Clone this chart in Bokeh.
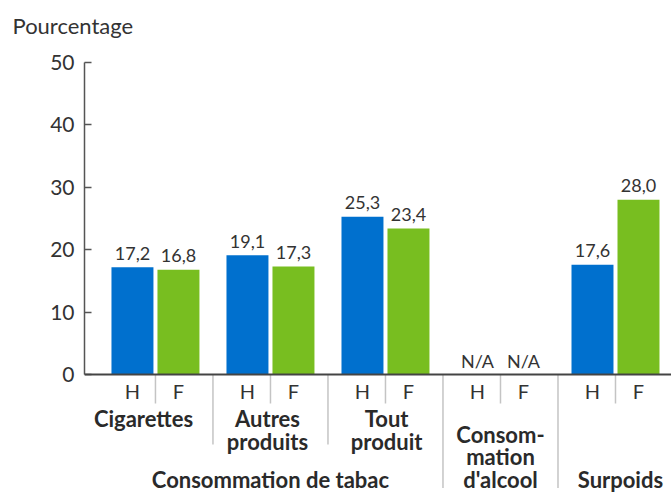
from bokeh.plotting import figure
from bokeh.models import Range1d, Span, FixedTicker
from bokeh.core.properties import value
from bokeh.embed import file_html
from bokeh.resources import INLINE

# ---- data ----
groups = ["Cigarettes", "Autres produits", "Tout produit", "Consommation d'alcool", "Surpoids"]
group_lines = [["Cigarettes"], ["Autres", "produits"], ["Tout", "produit"],
               ["Consom-", "mation", "d'alcool"], ["Surpoids"]]
sexes = ["H", "F"]
hommes = [17.2, 19.1, 25.3, None, 17.6]
femmes = [16.8, 17.3, 23.4, None, 28.0]
super_label = "Consommation de tabac"
super_groups = [0, 1, 2]
y_ticks = [0, 10, 20, 30, 40, 50]
y_title = "Pourcentage"

# ---- styles / layout ----
BLUE = "#0070CE"
GREEN = "#78BE20"
TXT = "#333333"
FONT = "Lato"
BAR_OFF = 0.2
BAR_W = 0.365
PX_UNIT = 6.24

def fmt(v):
    return "N/A" if v is None else f"{v:.1f}".replace(".", ",")

p = figure(width=671, height=492, output_backend="svg", toolbar_location=None,
           x_range=Range1d(-0.617, 4.487), y_range=Range1d(-18.91, 53.526),
           x_axis_location=None, min_border_left=84, min_border_right=0,
           min_border_top=40, min_border_bottom=0)
p.outline_line_color = None
p.grid.visible = False
p.background_fill_color = "white"

p.title.text = y_title
p.title.align = "left"
p.title.offset = -72
p.title.standoff = 3
p.title.text_font = FONT
p.title.text_font_size = "22px"
p.title.text_font_style = "normal"
p.title.text_color = TXT

ax = p.yaxis[0]
ax.bounds = (0, 50)
ax.ticker = FixedTicker(ticks=y_ticks)
ax.minor_tick_line_color = None
ax.major_tick_in = 7
ax.major_tick_out = 0
ax.major_tick_line_color = "#555555"
ax.major_tick_line_width = 1.5
ax.axis_line_color = "#555555"
ax.axis_line_width = 1.5
ax.major_label_text_font = FONT
ax.major_label_text_font_size = "21px"
ax.major_label_text_color = TXT
ax.major_label_standoff = 10

# bars
for vals, off, col in [(hommes, -BAR_OFF, BLUE), (femmes, BAR_OFF, GREEN)]:
    xs = [i + off for i, v in enumerate(vals) if v is not None]
    tops = [v for v in vals if v is not None]
    p.vbar(x=xs, top=tops, width=BAR_W, bottom=0, color=col, line_color=None)

# value labels
lx, ly, lt = [], [], []
for vals, off in [(hommes, -BAR_OFF), (femmes, BAR_OFF)]:
    for i, v in enumerate(vals):
        lx.append(i + off)
        ly.append(0 if v is None else v)
        lt.append(fmt(v))
p.text(x=lx, y=ly, text=lt, text_align="center", text_baseline="middle",
       y_offset=-14, text_font=value(FONT), text_font_size="18px", text_color=TXT)

# baseline
p.add_layout(Span(location=0, dimension="width", line_color="#444444", line_width=2))

# separators
n = len(groups)
sx0, sy0, sx1, sy1 = [], [], [], []
for i in range(n):
    sx0.append(i); sx1.append(i); sy0.append(0); sy1.append(-29 / PX_UNIT)
for i in range(n - 1):
    inner = (i in super_groups) and (i + 1 in super_groups)
    sx0.append(i + 0.5); sx1.append(i + 0.5); sy0.append(0)
    sy1.append(-70 / PX_UNIT if inner else -18.2)
p.segment(x0=sx0, y0=sy0, x1=sx1, y1=sy1, line_color="#c4c4c4", line_width=1.5)

# H / F labels
hx, ht = [], []
for i in range(n):
    for s, off in zip(sexes, [-BAR_OFF, BAR_OFF]):
        hx.append(i + off); ht.append(s)
p.text(x=hx, y=[-16 / PX_UNIT] * len(hx), text=ht, text_align="center",
       text_baseline="middle", text_font=value(FONT), text_font_size="20px",
       text_color=TXT)

# group labels (positions = centre of capitals of each line)
label_off = [-0.104, -0.026, 0.01, 0.0, 0.043]
first_mid = [-7.05, -7.05, -7.05, -9.6, -16.8]
steps = [3.69, 3.69, 3.69, 3.59, 3.59]
gx, gy, gt = [], [], []
for i, lines in enumerate(group_lines):
    for k, line in enumerate(lines):
        gx.append(i + label_off[i]); gy.append(first_mid[i] - k * steps[i]); gt.append(line)
p.text(x=gx, y=gy, text=gt, text_align="center", text_baseline="middle",
       text_font=value(FONT), text_font_size="22px", text_font_style="bold",
       text_color="#2a2a2a")

# super label
cx = sum(super_groups) / len(super_groups)
p.text(x=[cx], y=[-16.85], text=[super_label], text_align="center",
       text_baseline="middle", text_font=value(FONT), text_font_size="22px",
       text_font_style="bold", text_color="#2a2a2a")

open("out.html", "w").write(file_html(p, INLINE))
